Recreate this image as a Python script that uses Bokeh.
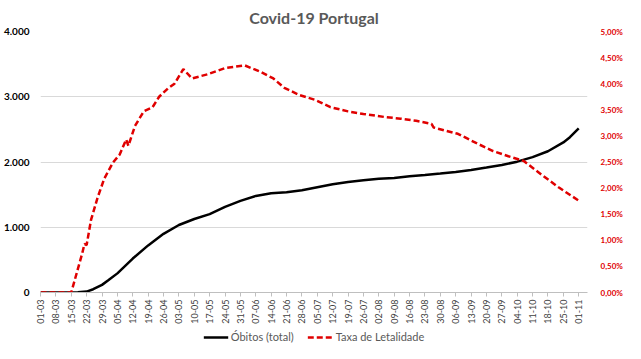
import pandas as pd
from datetime import datetime
from bokeh.plotting import figure
from bokeh.layouts import column
from bokeh.models import (Range1d, LinearAxis, FixedTicker, Legend, LegendItem,
                          ColumnDataSource, DatetimeTickFormatter)
from bokeh.embed import file_html
from bokeh.resources import INLINE

# ---- data ----
obitos_dates = ["2020-03-01", "2020-03-08", "2020-03-15", "2020-03-18", "2020-03-22",
                "2020-03-25", "2020-03-29", "2020-04-01", "2020-04-05", "2020-04-12",
                "2020-04-19", "2020-04-26", "2020-05-03", "2020-05-10", "2020-05-17",
                "2020-05-24", "2020-05-31", "2020-06-07", "2020-06-14", "2020-06-21",
                "2020-06-28", "2020-07-05", "2020-07-12", "2020-07-19", "2020-07-26",
                "2020-08-02", "2020-08-09", "2020-08-16", "2020-08-23", "2020-08-30",
                "2020-09-06", "2020-09-13", "2020-09-20", "2020-09-27", "2020-10-04",
                "2020-10-11", "2020-10-18", "2020-10-25", "2020-10-28", "2020-11-01"]
obitos = [0, 0, 0, 3, 14,
          50, 117, 190, 293, 520,
          722, 899, 1035, 1126, 1202,
          1313, 1404, 1480, 1520, 1535,
          1566, 1614, 1660, 1695, 1720,
          1742, 1755, 1780, 1800, 1823,
          1848, 1878, 1915, 1955, 2005,
          2075, 2165, 2300, 2380, 2515]

taxa_dates = ["2020-03-01", "2020-03-15", "2020-03-20", "2020-03-21", "2020-03-22",
              "2020-03-24", "2020-03-27", "2020-03-30", "2020-04-03", "2020-04-06",
              "2020-04-09", "2020-04-10", "2020-04-13", "2020-04-17", "2020-04-21",
              "2020-04-24", "2020-04-28", "2020-05-01", "2020-05-05", "2020-05-09",
              "2020-05-16", "2020-05-24", "2020-06-02", "2020-06-09", "2020-06-15",
              "2020-06-20", "2020-06-27", "2020-07-04", "2020-07-11", "2020-07-19",
              "2020-07-26", "2020-08-05", "2020-08-12", "2020-08-19", "2020-08-26",
              "2020-08-27", "2020-09-07", "2020-09-15", "2020-09-23", "2020-09-30",
              "2020-10-07", "2020-10-15", "2020-10-23", "2020-11-01"]
taxa = [0.00, 0.00, 0.75, 0.93, 0.91,
        1.39, 1.82, 2.18, 2.49, 2.64,
        2.93, 2.81, 3.19, 3.47, 3.55,
        3.75, 3.91, 4.00, 4.28, 4.10,
        4.18, 4.30, 4.35, 4.23, 4.10,
        3.92, 3.78, 3.69, 3.55, 3.47,
        3.42, 3.36, 3.33, 3.29, 3.23,
        3.16, 3.04, 2.87, 2.71, 2.61,
        2.52, 2.26, 2.01, 1.76]

tick_dates = ["2020-03-01", "2020-03-08", "2020-03-15", "2020-03-22", "2020-03-29",
              "2020-04-05", "2020-04-12", "2020-04-19", "2020-04-26", "2020-05-03",
              "2020-05-10", "2020-05-17", "2020-05-24", "2020-05-31", "2020-06-07",
              "2020-06-14", "2020-06-21", "2020-06-28", "2020-07-05", "2020-07-12",
              "2020-07-19", "2020-07-26", "2020-08-02", "2020-08-09", "2020-08-16",
              "2020-08-23", "2020-08-30", "2020-09-06", "2020-09-13", "2020-09-20",
              "2020-09-27", "2020-10-04", "2020-10-11", "2020-10-18", "2020-10-25",
              "2020-11-01"]
left_ticks = [0, 1000, 2000, 3000, 4000]
left_labels = ["0", "1.000", "2.000", "3.000", "4.000"]
right_ticks = [0.0, 0.5, 1.0, 1.5, 2.0, 2.5, 3.0, 3.5, 4.0, 4.5, 5.0]
right_labels = ["0,00%", "0,50%", "1,00%", "1,50%", "2,00%", "2,50%",
                "3,00%", "3,50%", "4,00%", "4,50%", "5,00%"]

title_text = "Covid-19 Portugal"
name_obitos = "Óbitos (total)"
name_taxa = "Taxa de Letalidade"

FONT = "Lato"
BLACK = "#000000"
RED = "#e00000"

# ---- main figure ----
src_o = ColumnDataSource(dict(x=pd.to_datetime(obitos_dates), y=obitos))
src_t = ColumnDataSource(dict(x=pd.to_datetime(taxa_dates), y=taxa))

p = figure(width=625, height=326, x_axis_type="datetime",
           x_range=Range1d(datetime(2020, 3, 1), datetime(2020, 11, 5)),
           y_range=Range1d(0, 4000),
           output_backend="svg", toolbar_location=None,
           min_border_left=0, min_border_right=0, min_border_top=0, min_border_bottom=0)
p.extra_y_ranges = {"pct": Range1d(0, 5)}

p.title.text = title_text
p.title.align = "center"
p.title.text_font = FONT
p.title.text_font_size = "16px"
p.title.text_font_style = "bold"
p.title.text_color = "#595959"
p.title.standoff = 10
p.title.offset = 0

p.outline_line_color = None
p.background_fill_color = "white"
p.border_fill_color = "white"

p.xgrid.grid_line_color = None
p.ygrid.grid_line_color = "#d9d9d9"
p.ygrid.grid_line_width = 1
p.ygrid.ticker = FixedTicker(ticks=left_ticks)

# left axis
ya = p.yaxis[0]
ya.ticker = FixedTicker(ticks=left_ticks)
ya.major_label_overrides = {t: l for t, l in zip(left_ticks, left_labels)}
ya.axis_line_color = None
ya.major_tick_line_color = None
ya.minor_tick_line_color = None
ya.major_label_text_font = FONT
ya.major_label_text_font_style = "bold"
ya.major_label_text_font_size = "10px"
ya.major_label_text_color = "#000000"
ya.major_label_standoff = 5

# right axis
ra = LinearAxis(y_range_name="pct")
ra.ticker = FixedTicker(ticks=right_ticks)
ra.major_label_overrides = {t: l for t, l in zip(right_ticks, right_labels)}
ra.axis_line_color = None
ra.major_tick_line_color = None
ra.minor_tick_line_color = None
ra.major_label_text_font = FONT
ra.major_label_text_font_style = "bold"
ra.major_label_text_font_size = "8px"
ra.major_label_text_color = RED
ra.major_label_standoff = 7
p.add_layout(ra, "right")

# x axis
xa = p.xaxis[0]
xa.ticker = FixedTicker(ticks=[pd.Timestamp(d).value / 1e6 for d in tick_dates])
xa.formatter = DatetimeTickFormatter(days="%d-%m", months="%d-%m", years="%d-%m",
                                     hours="%d-%m", minutes="%d-%m")
xa.major_label_orientation = 1.5708
xa.axis_line_color = "#bfbfbf"
xa.major_tick_line_color = "#bfbfbf"
xa.major_tick_in = 0
xa.major_tick_out = 4
xa.minor_tick_line_color = None
xa.major_label_text_font = FONT
xa.major_label_text_font_size = "9px"
xa.major_label_text_color = "#404040"
xa.major_label_standoff = 3

p.line("x", "y", source=src_o, line_color=BLACK, line_width=2.5)
p.line("x", "y", source=src_t, y_range_name="pct", line_color=RED,
       line_width=2.5, line_dash="6 3")

# ---- legend strip (separate small figure below the chart) ----
lg = figure(width=625, height=17, output_backend="svg", toolbar_location=None,
            min_border_left=0, min_border_right=0, min_border_top=0, min_border_bottom=0,
            x_range=Range1d(0, 1), y_range=Range1d(0, 1))
lg.axis.visible = False
lg.grid.grid_line_color = None
lg.outline_line_color = None
offscreen = ColumnDataSource(dict(x=[-5, -4], y=[-5, -5]))
lo = lg.line("x", "y", source=offscreen, line_color=BLACK, line_width=2.5)
lt = lg.line("x", "y", source=offscreen, line_color=RED, line_width=2.5, line_dash="6 3")
legend = Legend(items=[LegendItem(label=name_obitos, renderers=[lo]),
                       LegendItem(label=name_taxa, renderers=[lt])],
                orientation="horizontal", location="bottom_center")
legend.label_text_font = FONT
legend.label_text_font_size = "11px"
legend.label_text_color = "#595959"
legend.border_line_color = None
legend.background_fill_alpha = 0
legend.glyph_width = 25
legend.glyph_height = 12
legend.label_height = 12
legend.label_standoff = 3
legend.spacing = 14
legend.padding = 0
legend.margin = 0
lg.add_layout(legend, "center")

layout = column(p, lg, spacing=0)

open("out.html", "w").write(file_html(layout, INLINE))
